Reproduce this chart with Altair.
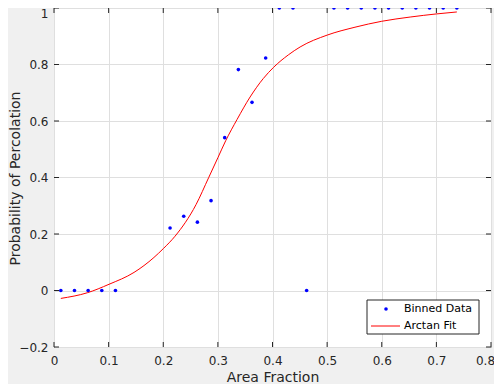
import altair as alt
import pandas as pd

# Binned data (bin centres, probability of percolation)
bin_x = [0.0125, 0.0375, 0.0625, 0.0875, 0.1125, 0.2125, 0.2375, 0.2625, 0.2875,
         0.3125, 0.3375, 0.3625, 0.3875, 0.4125, 0.4375, 0.4625, 0.5125, 0.5375,
         0.5625, 0.5875, 0.6125, 0.6375, 0.6625, 0.6875, 0.7125, 0.7375]
bin_p = [0, 0, 0, 0, 0, 0.221, 0.263, 0.242, 0.318,
         0.541, 0.782, 0.666, 0.823, 1, 1, 0, 1, 1,
         1, 1, 1, 1, 1, 1, 1, 1]

# Arctan fit curve
fit_x = [0.0125, 0.061, 0.1007, 0.1465, 0.183, 0.2, 0.2215, 0.26, 0.283,
         0.3, 0.3143, 0.335, 0.359, 0.383, 0.402, 0.429, 0.4505, 0.5, 0.551,
         0.6, 0.652, 0.7, 0.7375]
fit_y = [-0.028, -0.008, 0.022, 0.064, 0.117, 0.148, 0.192, 0.304, 0.399,
         0.470, 0.530, 0.605, 0.685, 0.750, 0.790, 0.834, 0.862, 0.904, 0.932,
         0.953, 0.968, 0.979, 0.986]

x_ticks = [0, 0.1, 0.2, 0.3, 0.4, 0.5, 0.6, 0.7, 0.8]
y_ticks = [-0.2, 0, 0.2, 0.4, 0.6, 0.8, 1]

legend_labels = ["Binned Data", "Arctan Fit"]

W, H = 437, 339
FONT = "DejaVu Sans"
DARK = "#262626"

pts = pd.DataFrame({"x": bin_x, "y": bin_p})
fit = pd.DataFrame({"x": fit_x, "y": fit_y})
xt = pd.DataFrame({"x": x_ticks})
yt = pd.DataFrame({"y": y_ticks})
one = pd.DataFrame({"k": [0]})

xscale = alt.Scale(domain=[0, 0.8], nice=False, zero=False)
yscale = alt.Scale(domain=[-0.2, 1], nice=False, zero=False)

xaxis = alt.Axis(values=x_ticks, format="~g", grid=True, ticks=False, tickSize=0,
                 domain=False, labelPadding=8, labelFlush=False, labelOverlap=False,
                 labelOffset={"condition": {"test": "datum.value == 0.8", "value": -6},
                              "value": 0},
                 title="Area Fraction", titlePadding=4)
yaxis = alt.Axis(values=y_ticks, format="~g", grid=True, ticks=False, tickSize=0,
                 domain=False, labelPadding=6, labelFlush=False, labelOverlap=False,
                 labelBaseline={"condition": {"test": "datum.value == 1", "value": "top"},
                                "value": "middle"},
                 title="Probability of Percolation", titleX=-32, titleY=170)

X = alt.X("x:Q", scale=xscale, axis=xaxis)
Y = alt.Y("y:Q", scale=yscale, axis=yaxis)

curve = alt.Chart(fit).mark_line(color="#ff0000", strokeWidth=1,
                                 interpolate="monotone", clip=True).encode(x=X, y=Y)
dots = alt.Chart(pts).mark_circle(color="#0000ff", size=13, opacity=1).encode(x=X, y=Y)

tick_len = 5
bt = alt.Chart(xt).mark_rule(color=DARK).encode(x=X, y=alt.value(H - tick_len), y2=alt.value(H))
tt = alt.Chart(xt).mark_rule(color=DARK).encode(x=X, y=alt.value(0), y2=alt.value(tick_len))
lt = alt.Chart(yt).mark_rule(color=DARK).encode(y=Y, x=alt.value(0), x2=alt.value(tick_len))
rt = alt.Chart(yt).mark_rule(color=DARK).encode(y=Y, x=alt.value(W - tick_len), x2=alt.value(W))

# legend box
lx0, lx1 = 313, 425
ly0, ly1 = 292, 326
lbox = alt.Chart(one).mark_rect(fill="white", stroke=DARK, strokeWidth=1).encode(
    x=alt.value(lx0), x2=alt.value(lx1), y=alt.value(ly0), y2=alt.value(ly1))
ldot = alt.Chart(one).mark_circle(color="#0000ff", size=13, opacity=1).encode(
    x=alt.value(332), y=alt.value(301))
lline = alt.Chart(one).mark_rule(color="#ff0000", strokeWidth=1).encode(
    x=alt.value(317), x2=alt.value(346), y=alt.value(318))
ltext1 = alt.Chart(one).mark_text(align="left", baseline="middle", font=FONT,
                                  fontSize=11, color="#000000").encode(
    x=alt.value(350), y=alt.value(301), text=alt.value(legend_labels[0]))
ltext2 = alt.Chart(one).mark_text(align="left", baseline="middle", font=FONT,
                                  fontSize=11, color="#000000").encode(
    x=alt.value(350), y=alt.value(318), text=alt.value(legend_labels[1]))

chart = alt.layer(curve, dots, bt, tt, lt, rt, lbox, ldot, lline, ltext1, ltext2).properties(
    width=W, height=H,
    autosize=alt.AutoSizeParams(type="none"),
    padding={"left": 46, "top": 0, "right": 3, "bottom": 37},
    background="#f0f0f0",
).configure_view(
    fill="white", stroke=DARK, strokeWidth=1
).configure_axis(
    labelFont=FONT, labelFontSize=12, labelColor=DARK,
    titleFont=FONT, titleFontSize=14, titleFontWeight="normal", titleColor=DARK,
    gridColor="#dfdfdf", gridWidth=1, gridOpacity=1,
)

chart.save("out.html", embed_options={"renderer": "svg", "actions": False})
